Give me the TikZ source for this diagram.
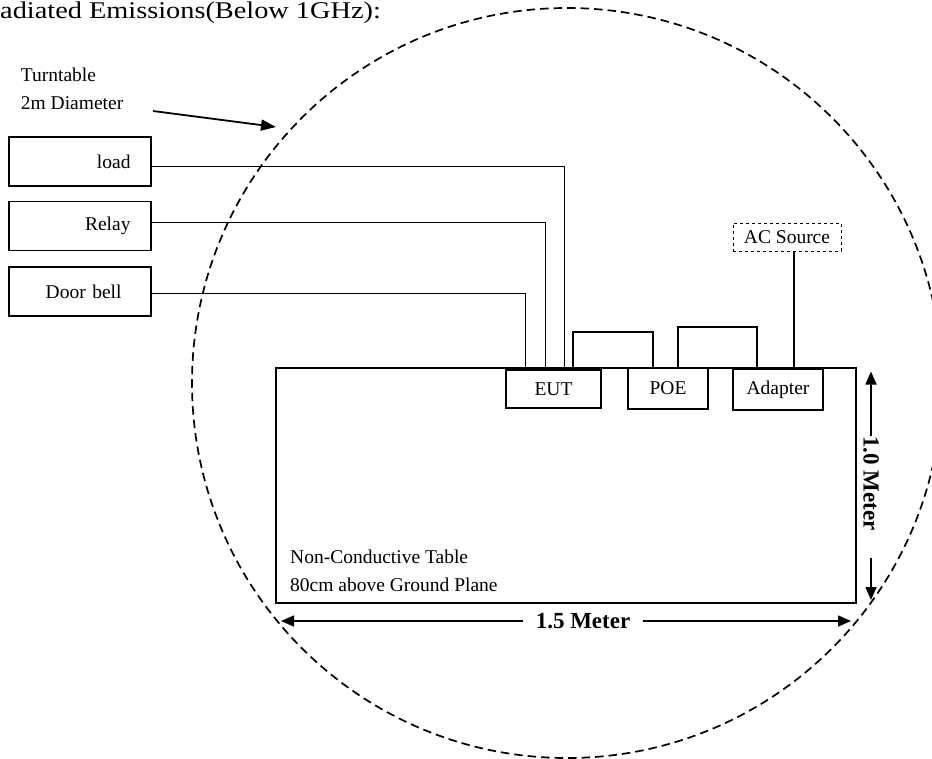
\documentclass[tikz,border=0pt]{standalone}
\usepackage{fontspec}
\setmainfont{Liberation Serif}
\usepackage{graphicx}
\usetikzlibrary{arrows.meta}
\tikzset{
 devbox/.style={draw, line width=1.5pt, inner sep=0pt, fill=white, font=\fontsize{19.5}{23}\selectfont},
 sidebox/.style={devbox, minimum width=142pt, minimum height=49pt, text width=101pt, align=right},
 wire/.style={line width=0.9pt},
 bracket/.style={line width=1.6pt},
 dim/.style={line width=1.6pt, -{Triangle[length=13pt,width=11pt]}},
 lbl/.style={font=\fontsize{19.5}{28.5}\selectfont, inner sep=0pt, align=left},
 dimtext/.style={font=\bfseries\fontsize{23}{27}\selectfont, inner sep=0pt},
}
\begin{document}
\begin{tikzpicture}[x=1pt,y=-1pt]
\useasboundingbox (0,0) rectangle (932,758);
\begin{scope}
\clip (0,0) rectangle (932,758);
\draw[line width=1.7pt, dash pattern=on 8.5pt off 5pt] (567,383) circle[radius=375pt];
\end{scope}

% title
\node[anchor=base west, inner sep=0pt] (title) at (0,18.5) {\fontsize{24}{28}\selectfont\scalebox{1.18}[1]{adiated Emissions(Below 1GHz):}};

% turntable label
\node[lbl, anchor=north west] (tt) at (20.7,67.5) {Turntable\\2m Diameter};
\coordinate (tts) at (153,111);
\coordinate (tte) at (276,127);
\draw[line width=1.8pt, -{Triangle[length=15pt,width=11pt]}] (tts) -- (tte);

% side boxes
\node[sidebox] (load) at (80,161.4) {load};
\node[sidebox] (relay) at (80,226.2) {Relay};
\node[sidebox, text width=83pt] (door) at (80,291.4) {Door bell};

% table
\node[draw, line width=2pt, minimum width=580pt, minimum height=235pt, inner sep=0pt] (table) at (566,485.5) {};
\node[lbl, anchor=north west] (tabtext) at (290,549.5) {Non-Conductive Table\\80cm above Ground Plane};

% devices
\node[devbox, line width=1.2pt, minimum width=95pt, minimum height=38pt] (eut) at (553.5,389) {EUT};
\node[devbox, line width=1.8pt, minimum width=80pt, minimum height=41pt] (poe) at (668,388.5) {POE};
\node[devbox, line width=1.8pt, minimum width=90pt, minimum height=41pt] (adapter) at (778,389.5) {Adapter};
\node[devbox, dashed, line width=1pt, minimum width=108pt, minimum height=28pt] (ac) at (787,237) {AC Source};

% wires from side boxes
\coordinate (x1) at (564,0);
\coordinate (x2) at (545,0);
\coordinate (x3) at (525.5,0);
\draw[wire] ([yshift=-4.6pt]load.east) -| (x1 |- eut.north);
\draw[wire] ([yshift=4.2pt]relay.east) -| (x2 |- eut.north);
\draw[wire] ([yshift=-1.9pt]door.east) -| (x3 |- eut.north);

% brackets between devices
\coordinate (b1) at (573,332);
\coordinate (b2) at (653,332);
\draw[bracket] (b1 |- table.north) -- (b1) -- (b2) -- (b2 |- table.north);
\coordinate (c1) at (678,327);
\coordinate (c2) at (757,327);
\draw[bracket] (c1 |- table.north) -- (c1) -- (c2) -- (c2 |- table.north);
\coordinate (d1) at (794,0);
\draw[wire, line width=1.2pt] (d1 |- ac.south) -- (d1 |- table.north);

% dimensions
\node[dimtext] (w15) at (583,621) {1.5 Meter};
\coordinate (wl) at (281,621);
\coordinate (wr) at (851,621);
\draw[dim] ([xshift=-13pt]w15.west) -- (wl);
\draw[dim] ([xshift=13pt]w15.east) -- (wr);

\node[dimtext, rotate=-90] (h10) at (871,483.5) {1.0 Meter};
\coordinate (ht) at (871,371.5);
\coordinate (hb) at (871,600);
\draw[dim] (h10.west) -- (ht);
\draw[dim] ([yshift=-27pt]h10.east) -- (hb);
\end{tikzpicture}
\end{document}
